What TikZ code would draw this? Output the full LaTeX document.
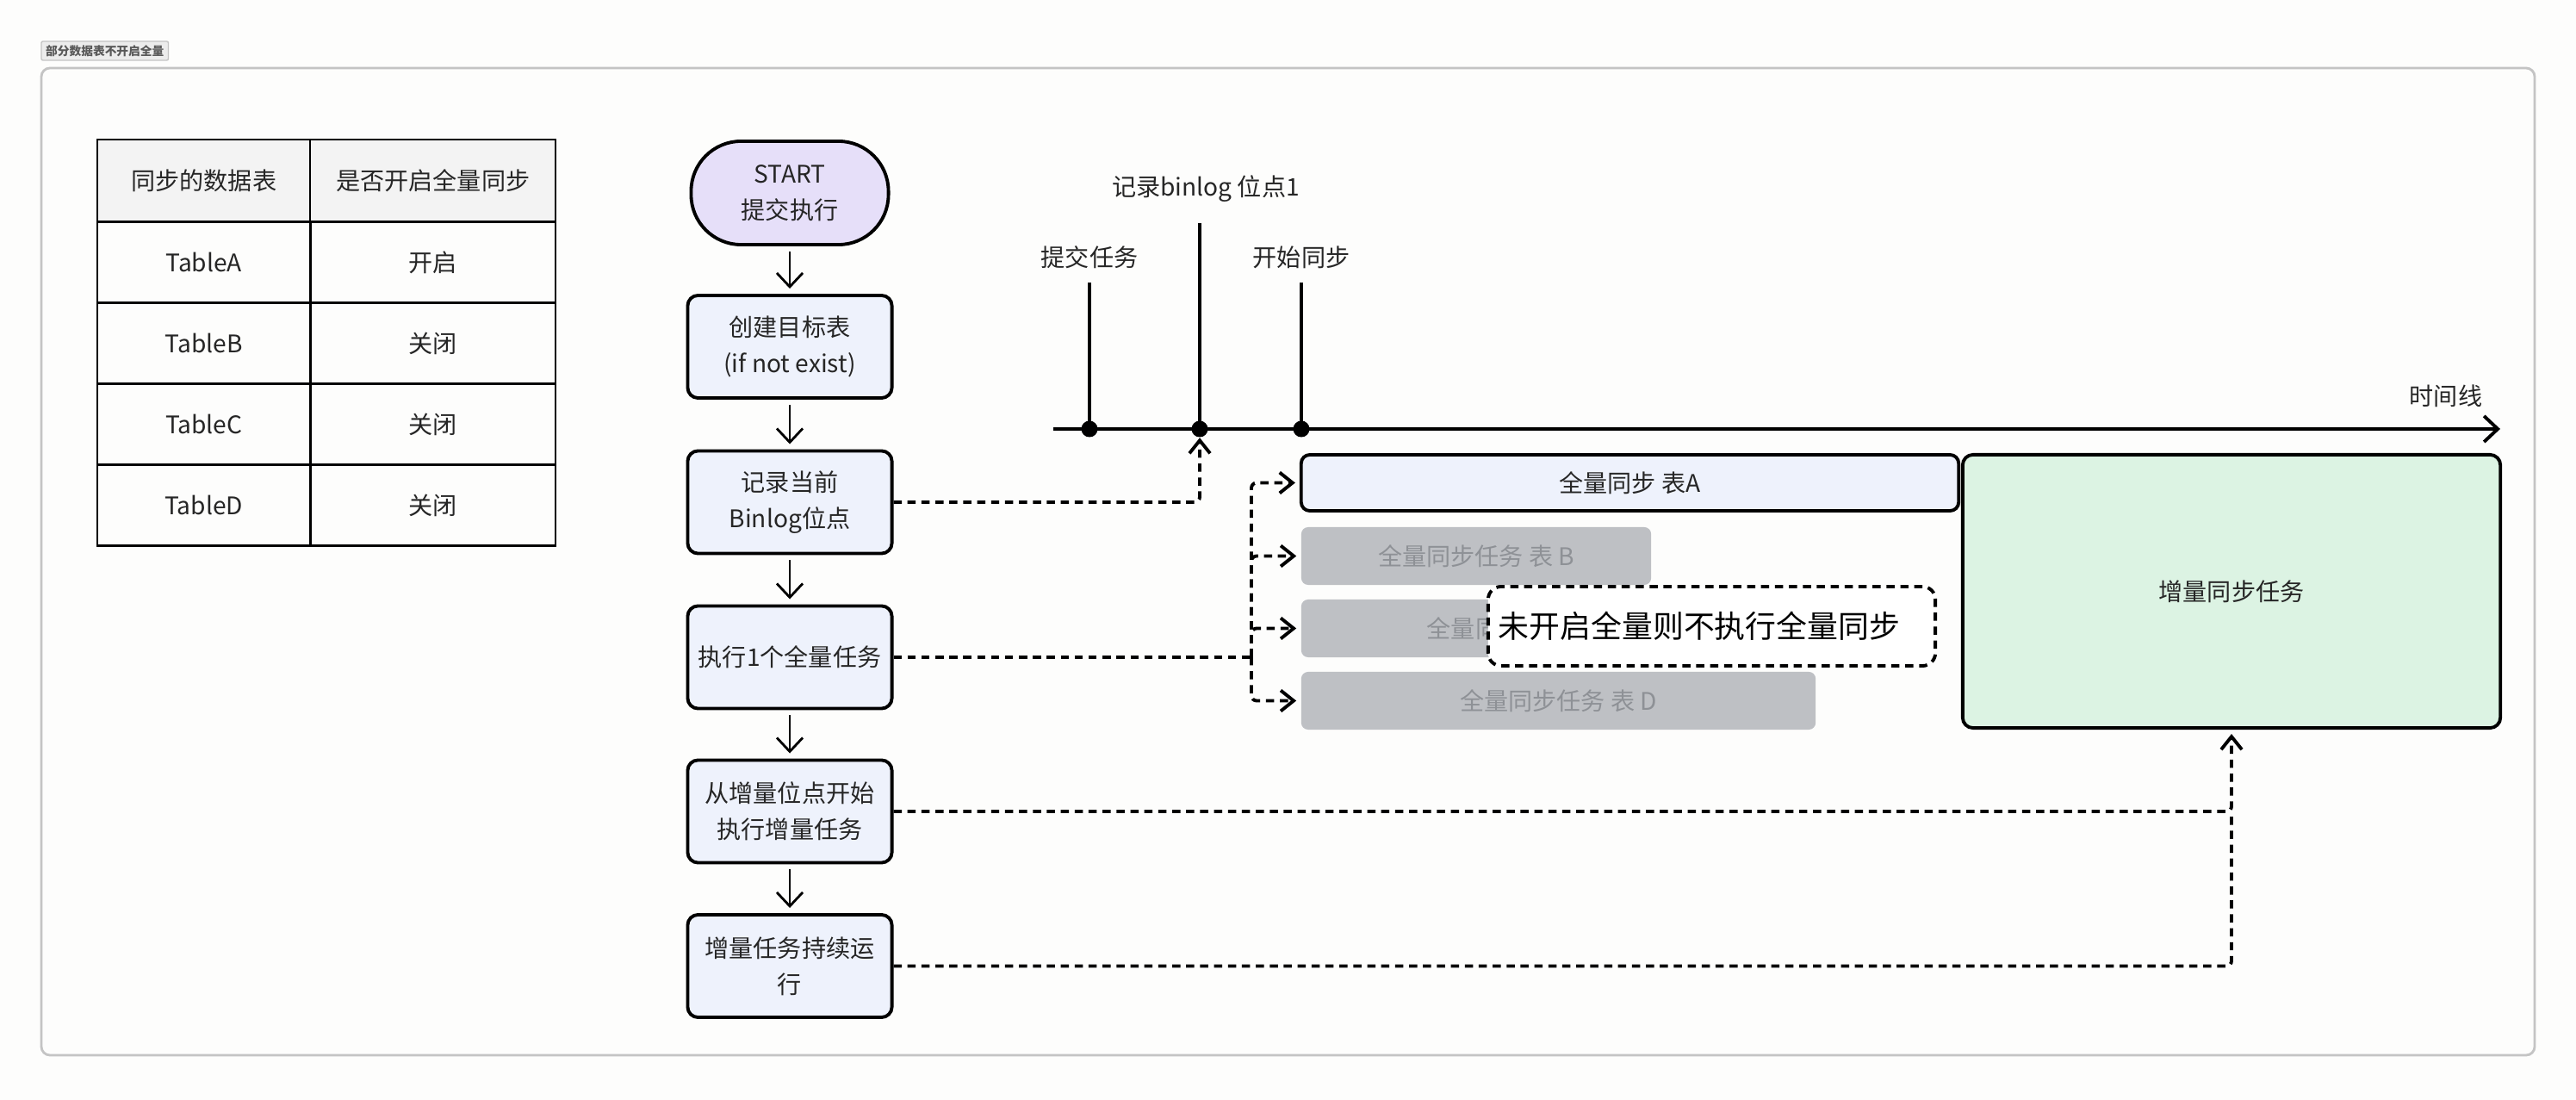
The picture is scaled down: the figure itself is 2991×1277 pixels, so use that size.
\documentclass[tikz,border=0pt]{standalone}
\usepackage{fontspec}
\setmainfont{Noto Sans CJK SC}
\usetikzlibrary{arrows.meta}

\definecolor{pagewhite}{HTML}{FDFDFC}
\definecolor{framegray}{HTML}{C4C4C4}
\definecolor{taggray}{HTML}{ECECEC}
\definecolor{headgray}{HTML}{F3F3F3}
\definecolor{flowblue}{HTML}{EEF2FC}
\definecolor{startlilac}{HTML}{E6DFF9}
\definecolor{incgreen}{HTML}{DCF3E3}
\definecolor{taskgray}{HTML}{BEC0C4}
\definecolor{taskgraytxt}{HTML}{8E9196}

\begin{document}
\begin{tikzpicture}[
  x=0.01cm, y=-0.01cm,
  fsynctxt/.style = {font=\fontsize{8}{12}\selectfont, align=center, text=black!85},
  fsyncbox/.style = {fsynctxt, draw, line width=1.1pt, rounded corners=0.12cm,
    fill=flowblue, minimum width=2.37cm, minimum height=1.19cm, inner sep=1pt},
  fsyncstart/.style = {fsyncbox, fill=startlilac, rounded corners=0.58cm,
    minimum width=2.29cm, minimum height=1.2cm},
  fsynccell/.style = {fsynctxt, draw, line width=0.6pt, inner sep=0pt,
    outer sep=0pt, minimum height=0.94cm},
  fsyncgray/.style = {fsynctxt, fill=taskgray, text=taskgraytxt,
    rounded corners=0.08cm, minimum height=0.67cm, inner sep=0pt},
  fsyncflow/.style = {line width=0.8pt, -{Straight Barb[length=1.6mm,width=3mm]},
    shorten <=0.06cm, shorten >=0.06cm},
  fsyncconn/.style = {line width=1.1pt, dash pattern=on 2.7pt off 1.9pt,
    rounded corners=0.06cm},
  fsyncdot/.style = {circle, fill, inner sep=0pt, minimum size=0.19cm}
]
  \fill[pagewhite] (0,0) rectangle (2991,1277);
  \useasboundingbox (0,0) rectangle (2991,1277);
  % 外框
  \node[draw=framegray, fill=taggray, rounded corners=0.02cm, inner sep=0pt,
    minimum width=1.475cm, minimum height=0.22cm, text=black!65,
    font=\fontsize{3.9}{4.5}\selectfont\bfseries] (tag) at (121.75,59) {部分数据表不开启全量};
  \draw[framegray, line width=0.8pt, rounded corners=0.1cm] (48,79) rectangle (2943,1225);

  % 表格
  \node[fsynccell, fill=headgray, minimum width=2.475cm, minimum height=0.955cm]
    (th1) at (236.75,209.75) {同步的数据表};
  \node[fsynccell, fill=headgray, minimum width=2.845cm, minimum height=0.955cm]
    (th2) at (502.75,209.75) {是否开启全量同步};
  \foreach \nm/\val [count=\i] in {TableA/开启, TableB/关闭, TableC/关闭, TableD/关闭} {
    \node[fsynccell, minimum width=2.475cm] (tn\i) at (236.75,{304.5+94*(\i-1)}) {\nm};
    \node[fsynccell, minimum width=2.845cm] (tv\i) at (502.75,{304.5+94*(\i-1)}) {\val};
  }

  % 流程
  \node[fsyncstart] (start) at (917,224) {START\\提交执行};
  \node[fsyncbox] (create) at (917,402.5) {创建目标表\\(if not exist)};
  \node[fsyncbox] (record) at (917,583) {记录当前\\Binlog位点};
  \node[fsyncbox] (full) at (917,763) {执行1个全量任务};
  \node[fsyncbox] (incstart) at (917,942) {从增量位点开始\\执行增量任务};
  \node[fsyncbox] (incrun) at (917,1121.5) {增量任务持续运\\行};
  \draw[fsyncflow] (start) -- (create);
  \draw[fsyncflow] (create) -- (record);
  \draw[fsyncflow] (record) -- (full);
  \draw[fsyncflow] (full) -- (incstart);
  \draw[fsyncflow] (incstart) -- (incrun);

  % 时间线
  \coordinate (tl0) at (1223,498);
  \coordinate (tl1) at (2903,498);
  \draw[line width=1.1pt, -{Straight Barb[length=1.6mm,width=3mm]}] (tl0) -- (tl1);
  \node[fsynctxt] (tlname) at (2840,460) {时间线};
  \node[fsyncdot] (dot1) at (1265,498) {};
  \node[fsyncdot] (dot2) at (1393,498) {};
  \node[fsyncdot] (dot3) at (1511,498) {};
  \coordinate (top1) at (1265,328);
  \coordinate (top2) at (1393,259);
  \coordinate (top3) at (1511,328);
  \foreach \k in {1,2,3} {
    \draw[line width=1.1pt] (dot\k.center) -- (top\k);
  }
  \node[fsynctxt] (lb1) at (1265,299) {提交任务};
  \node[fsynctxt] (lb2) at (1400,219) {记录binlog 位点1};
  \node[fsynctxt] (lb3) at (1511,299) {开始同步};

  % 全量任务
  \node[fsyncbox, minimum width=7.63cm, minimum height=0.65cm, rounded corners=0.1cm]
    (fsA) at (1892.5,560.5) {全量同步 表A};
  \node[fsyncgray, minimum width=4.06cm] (fsB) at (1714,645.5) {全量同步任务 表 B};
  \node[fsyncgray, minimum width=5.19cm] (fsC) at (1770.5,729.5) {全量同步任务 表 C};
  \node[fsyncgray, minimum width=5.97cm] (fsD) at (1809.5,813.5) {全量同步任务 表 D};
  \node[draw, fill=white, dash pattern=on 2.7pt off 1.9pt, line width=1.1pt,
    rounded corners=0.15cm, text width=4.95cm, inner xsep=0.12cm, align=left,
    minimum height=0.92cm, font=\fontsize{10.2}{12}\selectfont]
    (note) at (1987.5,727) {未开启全量则不执行全量同步};
  \node[fsyncbox, fill=incgreen, minimum width=6.24cm, minimum height=3.17cm]
    (inc) at (2591,686.5) {增量同步任务};

  % 虚线连接
  \draw[fsyncconn, -{Straight Barb[length=1.5mm,width=2.4mm]}] (record.east) -| (dot2.south);
  \coordinate (split) at (1453,763);
  \draw[fsyncconn] (full.east) -- (split);
  \foreach \t in {fsA,fsB,fsC,fsD} {
    \draw[fsyncconn, -{Straight Barb[length=1.5mm,width=2.4mm]}, shorten >=0.05cm]
      (split) |- (\t.west);
  }
  \draw[fsyncconn, -{Straight Barb[length=1.5mm,width=2.4mm]}, shorten >=0.05cm]
    (incstart.east) -| (inc.south);
  \coordinate (merge) at (2591,942);
  \draw[fsyncconn] (incrun.east) -| (merge);
\end{tikzpicture}
\end{document}
